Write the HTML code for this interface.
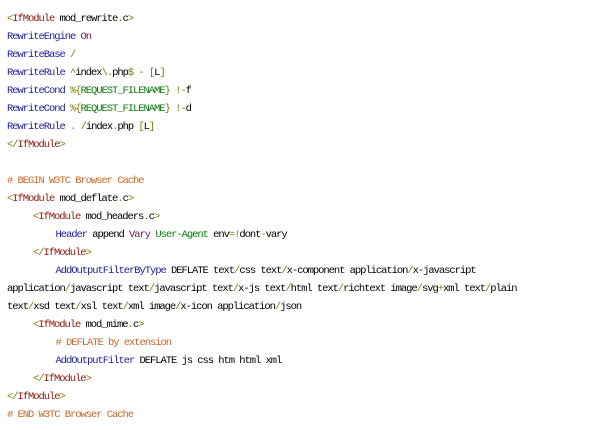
<!DOCTYPE html>
<html><head><style>
body{margin:0;background:#fff;width:600px;height:430px;overflow:hidden}
pre{margin:0;position:absolute;left:7px;top:10px;font-family:"Liberation Mono",monospace;font-size:10.5px;letter-spacing:-1.05px;line-height:18px;color:#000}
.l1{padding-left:26px}.l2{padding-left:48.5px}
.t{color:#8b1a0e}.p{color:#7a7a00}.d{color:#1c1c9c}.k{color:#6a1860}.v{color:#0a7a0a}.c{color:#c8682a}
div{height:18px;white-space:pre}
</style></head><body><pre><div><span class="p">&lt;</span><span class="t">IfModule</span> mod_rewrite<span class="p">.</span>c<span class="p">&gt;</span></div><div><span class="d">RewriteEngine</span> <span class="k">On</span></div><div><span class="d">RewriteBase</span> <span class="p">/</span></div><div><span class="d">RewriteRule</span> <span class="p">^</span>index<span class="p">\.</span>php<span class="p">$</span> <span class="p">-</span> <span class="p">[</span>L<span class="p">]</span></div><div><span class="d">RewriteCond</span> <span class="p">%{</span><span class="v">REQUEST_FILENAME</span><span class="p">}</span> <span class="p">!-</span>f</div><div><span class="d">RewriteCond</span> <span class="p">%{</span><span class="v">REQUEST_FILENAME</span><span class="p">}</span> <span class="p">!-</span>d</div><div><span class="d">RewriteRule</span> <span class="p">.</span> <span class="p">/</span>index<span class="p">.</span>php <span class="p">[</span>L<span class="p">]</span></div><div><span class="p">&lt;/</span><span class="t">IfModule</span><span class="p">&gt;</span></div><div> </div><div><span class="c"># BEGIN W3TC Browser Cache</span></div><div><span class="p">&lt;</span><span class="t">IfModule</span> mod_deflate<span class="p">.</span>c<span class="p">&gt;</span></div><div class="l1"><span class="p">&lt;</span><span class="t">IfModule</span> mod_headers<span class="p">.</span>c<span class="p">&gt;</span></div><div class="l2"><span class="d">Header</span> append <span class="k">Vary</span> <span class="v">User-Agent</span> env<span class="p">=!</span>dont<span class="p">-</span>vary</div><div class="l1"><span class="p">&lt;/</span><span class="t">IfModule</span><span class="p">&gt;</span></div><div class="l2"><span class="d">AddOutputFilterByType</span> DEFLATE text<span class="p">/</span>css text<span class="p">/</span>x-component application<span class="p">/</span>x-javascript</div><div>application<span class="p">/</span>javascript text<span class="p">/</span>javascript text<span class="p">/</span>x-js text<span class="p">/</span>html text<span class="p">/</span>richtext image<span class="p">/</span>svg<span class="p">+</span>xml text<span class="p">/</span>plain</div><div>text<span class="p">/</span>xsd text<span class="p">/</span>xsl text<span class="p">/</span>xml image<span class="p">/</span>x-icon application<span class="p">/</span>json</div><div class="l1"><span class="p">&lt;</span><span class="t">IfModule</span> mod_mime<span class="p">.</span>c<span class="p">&gt;</span></div><div class="l2"><span class="c"># DEFLATE by extension</span></div><div class="l2"><span class="d">AddOutputFilter</span> DEFLATE js css htm html xml</div><div class="l1"><span class="p">&lt;/</span><span class="t">IfModule</span><span class="p">&gt;</span></div><div><span class="p">&lt;/</span><span class="t">IfModule</span><span class="p">&gt;</span></div><div><span class="c"># END W3TC Browser Cache</span></div></pre></body></html>
